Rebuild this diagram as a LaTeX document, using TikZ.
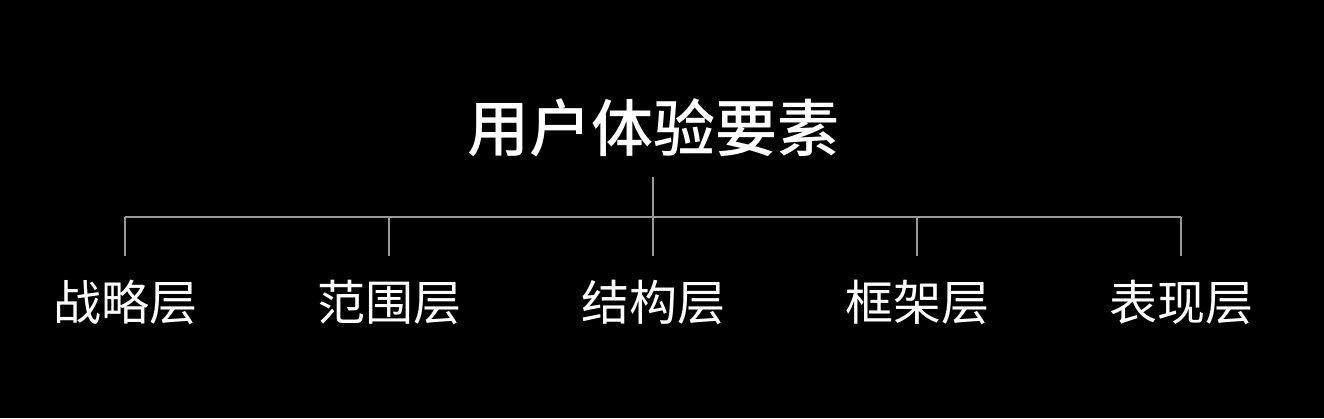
\documentclass[tikz,border=0pt]{standalone}
\usepackage{fontspec}
\newfontfamily\cjk{Noto Sans CJK SC}
\newfontfamily\cjkmedium{Noto Sans CJK SC Medium}
\usetikzlibrary{positioning}
\definecolor{bgblack}{rgb}{0,0,0}
\definecolor{treegray}{gray}{0.6}

\begin{document}
\begin{tikzpicture}[
    x=1pt, y=-1pt,
    every node/.style={text=white, inner sep=0pt},
    title/.style ={font=\cjkmedium\fontsize{62}{66}\selectfont},
    layer/.style ={font=\cjk\fontsize{48}{52}\selectfont},
    branch/.style={draw=treegray, line width=1.6pt}
]
\fill[bgblack] (0,0) rectangle (1324,418);
\useasboundingbox (0,0) rectangle (1324,418);

% Title
\node[title] (ux) at (653,128) {用户体验要素};

% Five layers
\node[layer] (strategy)  at (125,302) {战略层};
\node[layer] (scope)     at (389,302) {范围层};
\node[layer] (structure) at (653,302) {结构层};
\node[layer] (skeleton)  at (917,302) {框架层};
\node[layer] (surface)   at (1181,302) {表现层};

% Tree
\coordinate (root) at (653,177);
\coordinate (hub)  at (653,217);
\coordinate (stem) at (653,256);
\draw[branch] (root) -- (hub);
\draw[branch] (strategy |- hub) -- (surface |- hub);
\draw[branch] (strategy |- hub)  -- (strategy |- stem);
\draw[branch] (scope |- hub)     -- (scope |- stem);
\draw[branch] (structure |- hub) -- (structure |- stem);
\draw[branch] (skeleton |- hub)  -- (skeleton |- stem);
\draw[branch] (surface |- hub)   -- (surface |- stem);

\end{tikzpicture}
\end{document}
